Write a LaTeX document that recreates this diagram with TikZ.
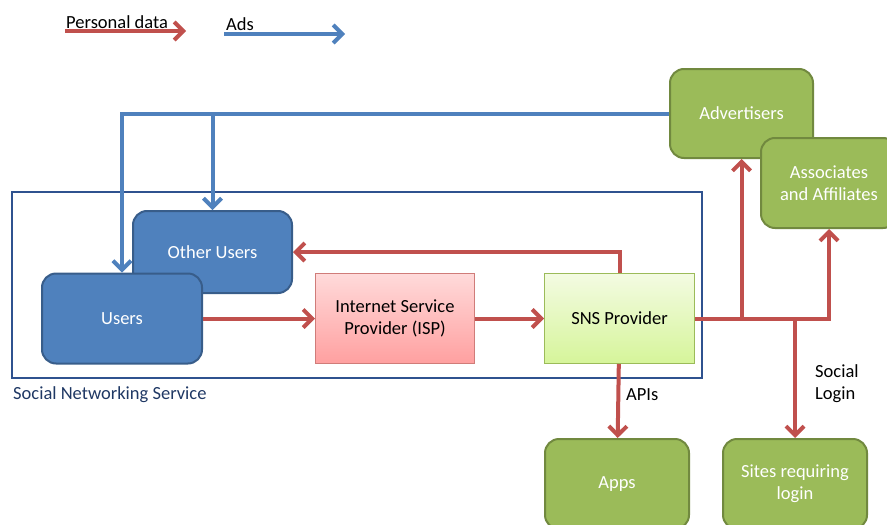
\documentclass[tikz,border=0pt]{standalone}
\usepackage{fontspec}
\setmainfont{Carlito}
\usetikzlibrary{arrows.meta,positioning}
\definecolor{pdred}{HTML}{C0504D}
\definecolor{adblue}{HTML}{4F81BD}
\definecolor{userdraw}{HTML}{385D8A}
\definecolor{extfill}{HTML}{9BBB59}
\definecolor{extdraw}{HTML}{71893F}
\definecolor{ispTop}{HTML}{FFDADA}
\definecolor{ispBot}{HTML}{FFA0A0}
\definecolor{snsTop}{HTML}{F3FBE2}
\definecolor{snsBot}{HTML}{D6F59A}
\definecolor{snsframe}{HTML}{2F528F}
\definecolor{snslabel}{HTML}{1F3864}

\begin{document}
\begin{tikzpicture}[
  x=1pt, y=-1pt,
  font=\fontsize{18.5}{22}\selectfont,
  user/.style={rectangle, rounded corners=14pt, draw=userdraw, line width=2pt,
               fill=adblue, text=white, align=center, inner sep=0pt,
               minimum width=160pt, minimum height=90pt},
  ext/.style={rectangle, rounded corners=14pt, draw=extdraw, line width=2pt,
              fill=extfill, text=white, align=center, inner sep=0pt,
              minimum width=144pt, minimum height=90pt},
  ispbox/.style={rectangle, draw=pdred!75, line width=1pt, top color=ispTop,
                 bottom color=ispBot, align=center, inner sep=0pt,
                 minimum width=159pt, minimum height=90pt},
  snsbox/.style={rectangle, draw=extfill, line width=1pt, top color=snsTop,
                 bottom color=snsBot, align=center, inner sep=0pt,
                 minimum width=150pt, minimum height=90pt},
  frame/.style={draw=snsframe, line width=1.6pt},
  pdata/.style={-{Straight Barb[length=9pt,width=18pt]}, draw=pdred, line width=4pt},
  ads/.style={-{Straight Barb[length=9pt,width=18pt]}, draw=adblue, line width=4pt},
  lab/.style={align=left, anchor=west, inner sep=0pt},
]
\useasboundingbox (0,0) rectangle (887,525);
% --- legend ---
\coordinate (pd0) at (65,31);
\coordinate (pd1) at (186,31);
\coordinate (ad0) at (224,34);
\coordinate (ad1) at (345,34);
\draw[pdata] (pd0) -- (pd1);
\draw[ads] (ad0) -- (ad1);
\node[lab] (pdlab) at (66,22) {Personal data};
\node[lab] (adlab) at (226,24) {Ads};
% --- SNS frame ---
\draw[frame] (12,192) rectangle (702,378);
\node[lab, text=snslabel] (snslab) at (13,395) {Social Networking Service};
% --- nodes ---
\node[user, minimum width=159pt, minimum height=82pt] (others) at (212.5,252) {Other Users};
\node[user] (users) at (122,318.5) {Users};
\node[ispbox, right=112pt of users] (isp) {Internet Service\\Provider (ISP)};
\node[snsbox, right=69pt of isp] (sns) {SNS Provider};
\node[ext, minimum width=143pt, minimum height=89pt] (adv) at (741.5,113.5) {Advertisers};
\node[ext, minimum width=136pt] (assoc) at (829,183) {Associates\\and Affiliates};
\node[ext] (apps) at (617,484) {Apps};
\node[ext] (sites) at (795,484) {Sites requiring\\login};
% --- ads flow ---
\coordinate (split) at (others.north |- adv.west);
\draw[ads] (adv.west) -| (users.north);
\draw[ads] (split) -- (others.north);
% --- personal data flow ---
\draw[pdata] (users) -- (isp);
\draw[pdata] (isp) -- (sns);
\draw[pdata] (sns.north) |- (others.east);
\draw[pdata] (sns.east) -| (adv.south);
\draw[pdata] (sns.east) -| (assoc.south);
\draw[pdata] (sns.east) -| (sites.north);
\draw[pdata] (sns) -- (apps);
% --- labels ---
\node[lab] (apilab) at (626,395) {APIs};
\node[lab] (loglab) at (815,384) {Social\\Login};
\end{tikzpicture}
\end{document}
